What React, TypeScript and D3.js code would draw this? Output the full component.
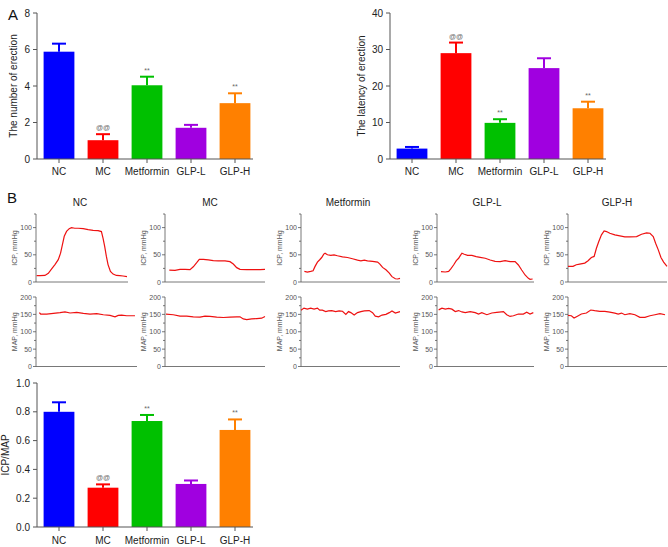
import React from "react";
import * as d3 from "d3";

const FONT = "'Liberation Sans', Arial, Helvetica, sans-serif";

const categories = ["NC", "MC", "Metformin", "GLP-L", "GLP-H"];
const barColors = ["#0000ff", "#ff0000", "#00c000", "#a000e0", "#ff8000"];

const erectionCount = [5.88, 1.03, 4.04, 1.71, 3.06];
const erectionCountErr = [0.44, 0.33, 0.47, 0.16, 0.54];
const erectionCountMarks = ["", "@@", "**", "", "**"];
const countTicks = [0, 2, 4, 6, 8];

const erectionLatency = [2.85, 29.0, 9.9, 24.9, 13.9];
const erectionLatencyErr = [0.45, 2.9, 1.0, 2.7, 1.8];
const erectionLatencyMarks = ["", "@@", "**", "", "**"];
const latencyTicks = [0, 10, 20, 30, 40];

const icpMapRatio = [0.8, 0.273, 0.736, 0.299, 0.674];
const icpMapRatioErr = [0.066, 0.023, 0.042, 0.024, 0.073];
const icpMapRatioMarks = ["", "@@", "**", "", "**"];
const ratioTicks = [0, 0.2, 0.4, 0.6, 0.8, 1.0];

const icpTicks = [0, 25, 50, 75, 100, 125];
const icpLabels = [0, 50, 100];
const mapTicks = [0, 25, 50, 75, 100, 125, 150, 175, 200];
const mapLabels = [0, 50, 100, 150, 200];

// pressure traces: [time (% of recording window), mmHg]
const icpNC = [[0.7,11.6],[4.3,11.6],[9.7,12],[13.4,16],[17,24],[20.6,32],[24.2,41],[26.7,53],[28.9,70],[30.7,84],[33.2,93],[36.1,98],[38.6,100],[42.2,98.8],[45.8,98.8],[51.3,98],[56.7,96.3],[62.1,95],[67.5,94.5],[71.1,92.7],[72.9,80],[74.7,65],[76.5,47],[78.3,32],[80.9,19.5],[83.8,14.6],[87.4,12],[91,11.6],[94.6,11],[98.9,9.8]];
const mapNC = [[3.3,155],[4.6,151],[10.6,151],[17.2,153],[23.8,155],[28.7,157],[33.7,154],[40.3,156],[46.9,153],[53.5,151],[60.1,152],[66.7,149],[73.3,147],[78.2,143],[81.5,147],[84.8,148],[89.8,146],[98,146]];
const icpMC = [[4.3,22],[10,21.5],[15,23.3],[20,23.3],[25,22.7],[28.3,28],[31.7,35.6],[34.3,41.7],[38.3,41.7],[43.3,40.5],[48.3,39.3],[53.3,38.7],[60,38.7],[65,37.4],[68.3,33],[71.7,26.4],[75,23.3],[81.7,22.7],[88.3,22.7],[95,22.7],[100,23.3]];
const mapMC = [[1,151],[8.3,149],[15,145],[21.7,145],[28.3,143],[35,142],[40,145],[45,144],[51.7,142],[58.3,141],[65,142],[71.7,143],[75,143],[78.3,137],[81.7,135],[86.7,137],[91.7,138],[96.7,139],[100,144]];
const icpMet = [[3.4,19.5],[6.4,18.3],[9.8,19.5],[12.2,20.7],[14.2,28.7],[16.6,36.6],[18.9,40.9],[20.9,45],[23,51.2],[24.3,53],[26.7,50],[30.1,48.8],[33.4,50],[36.8,48.2],[41.9,46.3],[47,45],[52,42.7],[57.1,40.2],[60.5,39],[63.9,40.2],[67.2,39],[72.3,37.8],[77.4,36.6],[79.7,33],[82.4,26.8],[85.8,22.6],[89.2,16.5],[91.9,9.8],[95.3,6],[97.6,5.5],[100,6.7]];
const mapMet = [[0,162],[3,168],[6.4,165],[9.8,168],[13.2,165],[16.6,168],[18.9,162],[21.6,162],[25,158],[27.7,160],[31.1,161],[35.1,158],[38.5,160],[41.9,159],[45.3,150],[48,158],[50.3,155],[53.7,148],[57.1,155],[60.5,158],[63.9,160],[68.9,161],[72.3,155],[75,145],[78.4,143],[81.8,148],[85.8,150],[89.2,155],[91.9,160],[95.3,154],[100,158]];
const icpGLPL = [[4.1,19],[8.6,18.4],[12,19.6],[14.4,24.5],[17.1,31.3],[19.9,39.3],[22.3,43.6],[24,48.5],[25.7,52.8],[28.1,51],[31.5,49],[36,49],[40.4,46.6],[44.5,45.4],[49.7,43.6],[54.8,40.5],[59.9,38],[65.1,37.4],[70.2,39.3],[75.3,37.4],[80.5,37.4],[83.9,31.3],[87.3,22],[90.8,12.9],[94.2,6.7],[95.9,4.9],[98.6,5.5]];
const mapGLPL = [[1.7,163],[5.1,168],[8.6,165],[12,167],[15.4,165],[18.8,158],[22.3,161],[25.7,157],[29.1,155],[34.2,158],[39.4,155],[42.8,151],[46.2,155],[51.4,149],[56.5,154],[61.6,156],[68.5,158],[71.9,149],[75.3,144],[78.8,146],[83.9,151],[89,151],[92.5,156],[95.9,151],[99.3,155]];
const icpGLPH = [[0,28.7],[5.1,28.7],[8.4,31.7],[11.8,33],[16.9,34.8],[20.3,39],[23.6,45],[26.4,47],[28.7,62],[31.1,74.4],[33.8,86.6],[36.5,93.9],[38.9,92.7],[42.2,89.6],[47.3,86.6],[52.4,84.8],[57.4,82.9],[62.5,82.9],[69.3,83.5],[74.3,87.8],[79.4,90.2],[82.8,89.6],[86.1,83.5],[88.5,71.3],[91.2,59.1],[93.9,45],[96.6,36.6],[100,28.7]];
const mapGLPH = [[0,147],[3.4,146],[6.1,139.6],[9.5,144.7],[13.5,151],[18.6,154],[23,162.5],[27,160.6],[32.1,158.6],[37.2,158.6],[42.2,156.7],[47.3,153.8],[50.7,150.9],[54.1,153.8],[57.4,149],[62.5,152],[67.6,149],[72.6,141.3],[77.7,141.3],[82.8,146],[87.8,149],[92.9,152],[98,149]];

const traceTitles = ["NC", "MC", "Metformin", "GLP-L", "GLP-H"];
const icpTraces = [icpNC, icpMC, icpMet, icpGLPL, icpGLPH];
const mapTraces = [mapNC, mapMC, mapMet, mapGLPL, mapGLPH];

// layout (positions only)
const traceAxisX = [36, 165, 301, 437, 568];
const traceRight = [128, 265, 400, 534, 667];
const mapRight = [137, 265, 400, 534, 667];
const traceTitleX = [80, 210, 348, 487, 617];

const AXIS = "#555";

function BarChart(props: any) {
  const { axisX, yBottom, yTop, max, ticks, fmt, values, errs, marks, ylabel, ylabelX, xLabelY } = props;
  const x = d3.scaleBand().domain(categories).range([axisX, axisX + 220]).paddingInner(0.3).paddingOuter(0.15);
  const y = d3.scaleLinear().domain([0, max]).range([yBottom, yTop]);
  return (
    <g fontFamily={FONT}>
      {categories.map((c, i) => {
        const x0 = x(c)!;
        const bw = x.bandwidth();
        const cx = x0 + bw / 2;
        const top = y(values[i]);
        const etop = y(values[i] + errs[i]);
        return (
          <g key={c}>
            <rect x={x0} y={top} width={bw} height={yBottom - top} fill={barColors[i]} />
            <line x1={cx} x2={cx} y1={top} y2={etop} stroke={barColors[i]} strokeWidth={2} />
            <line x1={cx - 7} x2={cx + 7} y1={etop} y2={etop} stroke={barColors[i]} strokeWidth={2} />
            {marks[i] && (
              <text x={cx} y={etop - 4} textAnchor="middle" fontSize={7} fill="#666">{marks[i]}</text>
            )}
            <line x1={cx} x2={cx} y1={yBottom} y2={yBottom + 4} stroke={AXIS} />
            <text x={cx} y={xLabelY} textAnchor="middle" fontSize={10} fill="#222">{c}</text>
          </g>
        );
      })}
      <line x1={axisX} x2={axisX} y1={yTop} y2={yBottom} stroke={AXIS} />
      <line x1={axisX} x2={axisX + 216} y1={yBottom} y2={yBottom} stroke={AXIS} />
      {ticks.map((t: number) => (
        <g key={t}>
          <line x1={axisX - 4} x2={axisX} y1={y(t)} y2={y(t)} stroke={AXIS} />
          <text x={axisX - 7} y={y(t) + 3.5} textAnchor="end" fontSize={10} fill="#222">{fmt(t)}</text>
        </g>
      ))}
      <text transform={`translate(${ylabelX},${(yTop + yBottom) / 2}) rotate(-90)`} textAnchor="middle" fontSize={10} fill="#222">{ylabel}</text>
    </g>
  );
}

function TracePlot(props: any) {
  const { axisX, right, y0, y1, max, ticks, labels, data, label } = props;
  const x = d3.scaleLinear().domain([0, 100]).range([axisX, right]);
  const y = d3.scaleLinear().domain([0, max]).range([y0, y1]);
  const line = d3.line<number[]>().x((d) => x(d[0])).y((d) => y(d[1]));
  return (
    <g fontFamily={FONT}>
      <line x1={axisX} x2={axisX} y1={y1} y2={y0} stroke={AXIS} strokeWidth={0.8} />
      <line x1={axisX} x2={right} y1={y0} y2={y0} stroke={AXIS} strokeWidth={0.8} />
      {ticks.map((t: number) => (
        <line key={t} x1={axisX - (labels.includes(t) ? 3 : 2)} x2={axisX} y1={y(t)} y2={y(t)} stroke={AXIS} strokeWidth={0.8} />
      ))}
      {labels.map((t: number) => (
        <text key={t} x={axisX - 4} y={y(t) + 2.5} textAnchor="end" fontSize={7} fill="#555">{t}</text>
      ))}
      <text transform={`translate(${axisX - 19},${(y0 + y1) / 2}) rotate(-90)`} textAnchor="middle" fontSize={7} fill="#555">{label}</text>
      <path d={line(data) || ""} fill="none" stroke="#ee1111" strokeWidth={1.2} />
    </g>
  );
}

export default function App() {
  return (
    <svg width={668} height={547} style={{ position: "absolute", left: 0, top: 0, background: "#fff" }}>
      <rect width={668} height={547} fill="#fff" />
      <text x={8} y={20} fontFamily={FONT} fontSize={15} fill="#111">A</text>
      <text x={7} y={203} fontFamily={FONT} fontSize={15} fill="#111">B</text>
      <BarChart axisX={37} yBottom={159} yTop={13} max={8} ticks={countTicks} fmt={(t: number) => String(t)}
        values={erectionCount} errs={erectionCountErr} marks={erectionCountMarks}
        ylabel="The number of erection" ylabelX={17} xLabelY={175} />
      <BarChart axisX={390} yBottom={159} yTop={13} max={40} ticks={latencyTicks} fmt={(t: number) => String(t)}
        values={erectionLatency} errs={erectionLatencyErr} marks={erectionLatencyMarks}
        ylabel="The latency of erection" ylabelX={365} xLabelY={175} />
      <BarChart axisX={37} yBottom={527} yTop={383} max={1} ticks={ratioTicks} fmt={d3.format(".1f")}
        values={icpMapRatio} errs={icpMapRatioErr} marks={icpMapRatioMarks}
        ylabel="ICP/MAP" ylabelX={9} xLabelY={544} />
      {traceTitles.map((t, i) => (
        <g key={t}>
          <text x={traceTitleX[i]} y={206} textAnchor="middle" fontFamily={FONT} fontSize={10} fill="#222">{t}</text>
          <TracePlot axisX={traceAxisX[i]} right={traceRight[i]} y0={282} y1={214} max={125}
            ticks={icpTicks} labels={icpLabels} data={icpTraces[i]} label="ICP, mmHg" />
          <TracePlot axisX={traceAxisX[i]} right={mapRight[i]} y0={366.5} y1={297} max={200}
            ticks={mapTicks} labels={mapLabels} data={mapTraces[i]} label="MAP, mmHg" />
        </g>
      ))}
    </svg>
  );
}
